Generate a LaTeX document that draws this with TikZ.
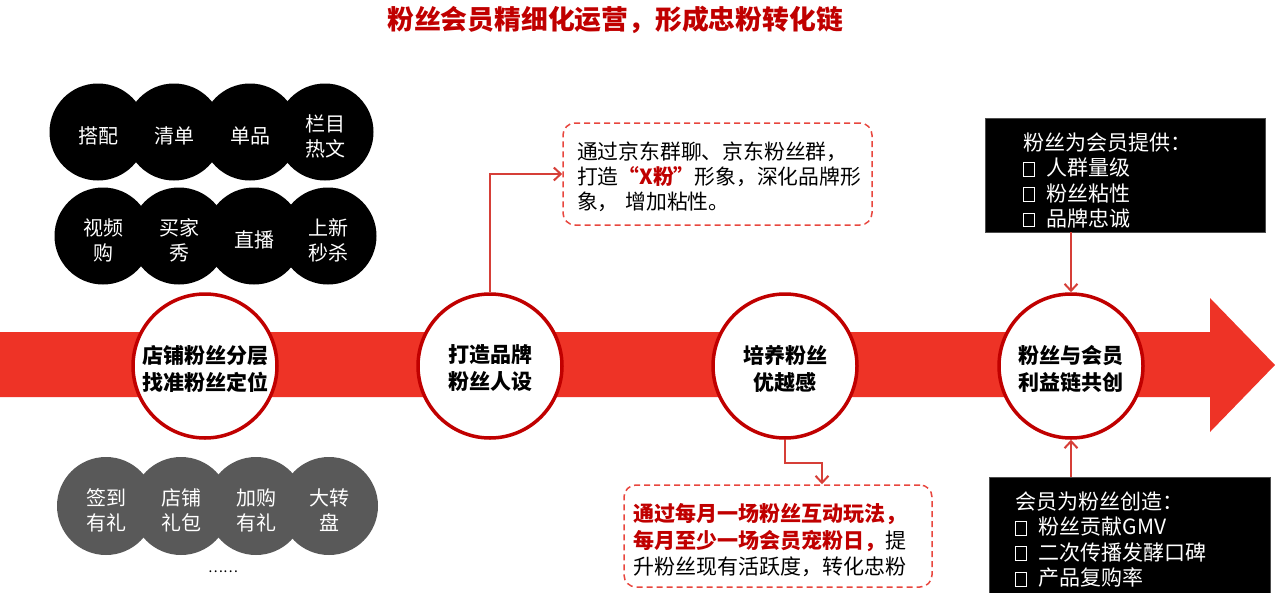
\documentclass[tikz,border=0pt]{standalone}
\usepackage{fontspec}
\setmainfont{Noto Sans CJK SC}
\usetikzlibrary{arrows.meta}
\definecolor{darkred}{HTML}{C00000}
\definecolor{bandred}{HTML}{EE3326}
\definecolor{linkred}{HTML}{D63F38}
\definecolor{dashred}{HTML}{E8463E}
\definecolor{circgray}{HTML}{595959}
\newcommand{\tofubox}{{\setlength\fboxsep{0pt}\setlength\fboxrule{0.8pt}\fbox{\rule{0pt}{13pt}\hspace{10pt}}}\hspace{12pt}}
\begin{document}
\begin{tikzpicture}[x=1pt,y=-1pt,
  maincirc/.style={circle,draw=darkred,line width=3.5pt,fill=white,minimum size=144pt,inner sep=0pt},
  mclbl/.style={yshift=-2.5pt,align=center,font=\fontsize{21}{27}\selectfont\bfseries},
  blackcirc/.style={circle,fill=black,minimum size=97pt,inner sep=0pt},
  graycirc/.style={circle,fill=circgray,minimum size=98pt,inner sep=0pt},
  clbl/.style={yshift=-4pt,align=center,text=white,font=\fontsize{20}{25}\selectfont},
  dashbox/.style={draw=dashred,line width=1.5pt,dash pattern=on 6pt off 4pt,rounded corners=12pt,inner sep=0pt},
  blackbox/.style={fill=black,draw=black!70,line width=0.6pt,inner sep=0pt},
  boxlbl/.style={align=left,inner sep=0pt},
  link/.style={draw=linkred,line width=2pt,-{Straight Barb[length=7pt,width=13pt,line width=2pt]}}]
\useasboundingbox (0,0) rectangle (1275,592);

% title
\node[text=darkred,font=\fontsize{26.8}{30}\selectfont\bfseries] (title) at (615,20) {粉丝会员精细化运营，形成忠粉转化链};

% main band arrow
\fill[bandred] (0,332) -- (1210,332) -- (1210,298) -- (1275,365) -- (1210,432) -- (1210,397) -- (0,397) -- cycle;

% main circles
\node[maincirc,label={[mclbl]center:{店铺粉丝分层\\找准粉丝定位}}] (c1) at (205,366) {};
\node[maincirc,label={[mclbl]center:{打造品牌\\粉丝人设}}] (c2) at (490,366) {};
\node[maincirc,label={[mclbl]center:{培养粉丝\\优越感}}] (c3) at (785,366) {};
\node[maincirc,label={[mclbl]center:{粉丝与会员\\利益链共创}}] (c4) at (1071,366) {};

% black circles
\node[blackcirc,label={[clbl]center:搭配}] (b1) at (98,132) {};
\node[blackcirc,label={[clbl]center:清单}] (b2) at (174,132) {};
\node[blackcirc,label={[clbl]center:单品}] (b3) at (250,132) {};
\node[blackcirc,label={[clbl]center:{栏目\\热文}}] (b4) at (325,132) {};
\node[blackcirc,label={[clbl]center:{视频\\购}}] (b5) at (103,236) {};
\node[blackcirc,label={[clbl]center:{买家\\秀}}] (b6) at (179,236) {};
\node[blackcirc,label={[clbl]center:直播}] (b7) at (254,236) {};
\node[blackcirc,label={[clbl]center:{上新\\秒杀}}] (b8) at (328,236) {};

% gray circles
\node[graycirc,label={[clbl]center:{签到\\有礼}}] (g1) at (106,506) {};
\node[graycirc,label={[clbl]center:{店铺\\礼包}}] (g2) at (181,506) {};
\node[graycirc,label={[clbl]center:{加购\\有礼}}] (g3) at (256,506) {};
\node[graycirc,label={[clbl]center:{大转\\盘}}] (g4) at (329,506) {};
\node[font=\fontsize{14}{16}\selectfont] (dots) at (223,572) {……};

% dashed boxes
\node[dashbox,minimum width=309pt,minimum height=102pt,
  label={[boxlbl,yshift=-2.5pt,text width=281pt,font=\fontsize{20.8}{25}\selectfont]center:{通过京东群聊、京东粉丝群，\\打造{\color{darkred}\bfseries“X粉”}形象，深化品牌形\\象， 增加粘性。}}] (box1) at (717.5,174) {};
\node[dashbox,minimum width=308pt,minimum height=102pt,
  label={[boxlbl,yshift=-4.5pt,text width=290pt,font=\fontsize{21}{26.5}\selectfont]center:{{\color{darkred}\bfseries 通过每月一场粉丝互动玩法，}\\{\color{darkred}\bfseries 每月至少一场会员宠粉日，}提\\升粉丝现有活跃度，转化忠粉}}] (box2) at (778,536) {};

% black boxes
\node[blackbox,minimum width=280pt,minimum height=114pt,
  label={[boxlbl,yshift=-5.5pt,text width=204pt,text=white,font=\fontsize{21}{25.3}\selectfont]center:{粉丝为会员提供：\\\tofubox 人群量级\\\tofubox 粉丝粘性\\\tofubox 品牌忠诚}}] (blk1) at (1125,175) {};
\node[blackbox,minimum width=281pt,minimum height=118pt,
  label={[boxlbl,yshift=-3.5pt,text width=229pt,text=white,font=\fontsize{21}{25.5}\selectfont]center:{会员为粉丝创造：\\\tofubox 粉丝贡献GMV\\\tofubox 二次传播发酵口碑\\\tofubox 产品复购率}}] (blk2) at (1129.5,536) {};

% connectors
\draw[link] (c2.north) |- (box1.west);
\coordinate (k3) at (822,463);
\draw[link] (c3.south) |- (k3) -- (k3 |- box2.north);
\draw[link] (blk1.south -| c4) -- (c4.north);
\draw[link] (blk2.north -| c4) -- (c4.south);
\end{tikzpicture}
\end{document}
